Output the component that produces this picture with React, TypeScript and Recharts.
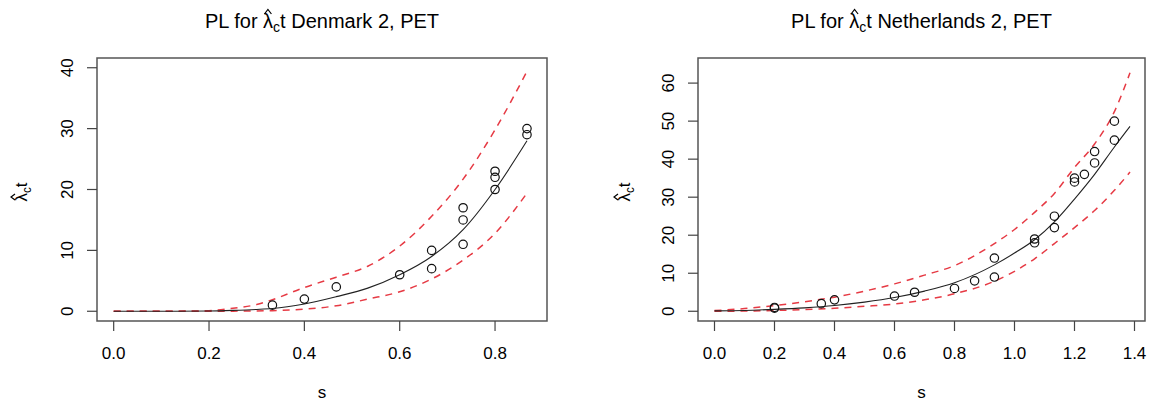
import React from "react";
import {
  ComposedChart,
  Line,
  Scatter,
  XAxis,
  YAxis,
  ReferenceArea,
} from "recharts";

const FONT = '"Liberation Sans", Arial, Helvetica, sans-serif';
const RED = "#e63a44";

// Denmark 2, PET
const dkPoints = [
  { s: 0.333, v: 1 },
  { s: 0.4, v: 2 },
  { s: 0.467, v: 4 },
  { s: 0.6, v: 6 },
  { s: 0.667, v: 10 },
  { s: 0.667, v: 7 },
  { s: 0.733, v: 17 },
  { s: 0.733, v: 15 },
  { s: 0.733, v: 11 },
  { s: 0.8, v: 23 },
  { s: 0.8, v: 22 },
  { s: 0.8, v: 20 },
  { s: 0.867, v: 30 },
  { s: 0.867, v: 29 },
];
const dkS = [0, 0.1, 0.2, 0.25, 0.3, 0.333, 0.4, 0.467, 0.533, 0.6, 0.667, 0.733, 0.8, 0.867];
const dkFit = [0, 0, 0.05, 0.15, 0.3, 0.45, 1.2, 2.4, 3.8, 6.0, 9.0, 13.4, 20.0, 28.0];
const dkUpper = [0, 0, 0.1, 0.5, 1.1, 1.9, 3.9, 5.6, 7.4, 10.7, 15.6, 21.7, 29.8, 39.4];
const dkLower = [0, 0, 0, 0.02, 0.05, 0.1, 0.35, 0.9, 2.0, 3.2, 5.3, 8.4, 12.8, 19.4];
const dkXTicks = [0, 0.2, 0.4, 0.6, 0.8];
const dkYTicks = [0, 10, 20, 30, 40];

// Netherlands 2, PET
const nlPoints = [
  { s: 0.2, v: 1 },
  { s: 0.2, v: 0.8 },
  { s: 0.356, v: 2 },
  { s: 0.4, v: 3 },
  { s: 0.6, v: 4 },
  { s: 0.667, v: 5 },
  { s: 0.8, v: 6 },
  { s: 0.867, v: 8 },
  { s: 0.933, v: 14 },
  { s: 0.933, v: 9 },
  { s: 1.067, v: 19 },
  { s: 1.067, v: 18 },
  { s: 1.133, v: 25 },
  { s: 1.133, v: 22 },
  { s: 1.2, v: 35 },
  { s: 1.2, v: 34 },
  { s: 1.233, v: 36 },
  { s: 1.267, v: 42 },
  { s: 1.267, v: 39 },
  { s: 1.333, v: 50 },
  { s: 1.333, v: 45 },
];
const nlS = [0, 0.1, 0.2, 0.3, 0.4, 0.5, 0.6, 0.7, 0.8, 0.933, 1.0, 1.067, 1.133, 1.2, 1.267, 1.333, 1.385];
const nlFit = [0.1, 0.2, 0.5, 0.9, 1.5, 2.4, 3.6, 5.3, 7.5, 12.2, 15.3, 18.8, 23.5, 29.5, 36, 43.2, 48.6];
const nlUpper = [0.2, 0.7, 1.5, 2.5, 3.7, 5.3, 7.2, 9.5, 12, 17.8, 21.5, 26, 31, 37.8, 44, 52.5, 62.7];
const nlLower = [0, 0.05, 0.2, 0.45, 0.8, 1.3, 1.9, 3.0, 4.6, 7.9, 10.5, 13.8, 17.8, 22, 26.5, 31.8, 36.6];
const nlXTicks = [0, 0.2, 0.4, 0.6, 0.8, 1.0, 1.2, 1.4];
const nlYTicks = [0, 10, 20, 30, 40, 50, 60];

const toRows = (s: number[], v: number[]) => s.map((x, i) => ({ s: x, v: v[i] }));

function RotTick(props: any) {
  const { x, y, payload } = props;
  return (
    <text
      x={x}
      y={y}
      transform={`rotate(-90 ${x} ${y})`}
      textAnchor="middle"
      fontSize={17}
      fontFamily={FONT}
      fill="#000"
    >
      {payload.value}
    </text>
  );
}

function Ring(props: any) {
  const { cx, cy } = props;
  return <circle cx={cx} cy={cy} r={4.2} fill="none" stroke="#111" strokeWidth={1.2} />;
}

// lambda with a drawn hat (like R's plotmath) and subscript c
function Lam({ hatW, hatH, hatTop }: { hatW: number; hatH: number; hatTop: number }) {
  return (
    <>
      <span style={{ position: "relative", display: "inline-block" }}>
        λ
        <svg
          width={hatW}
          height={hatH}
          style={{
            position: "absolute",
            left: "50%",
            marginLeft: -hatW / 2,
            top: hatTop,
            overflow: "visible",
          }}
        >
          <polyline
            points={`0.5,${hatH} ${hatW / 2},0.5 ${hatW - 0.5},${hatH}`}
            fill="none"
            stroke="#000"
            strokeWidth={1.2}
          />
        </svg>
      </span>
      <span style={{ fontSize: "0.7em", position: "relative", top: "0.3em" }}>c</span>
    </>
  );
}

type PanelProps = {
  left: number;
  country: string;
  points: { s: number; v: number }[];
  fit: { s: number; v: number }[];
  upper: { s: number; v: number }[];
  lower: { s: number; v: number }[];
  xDomain: [number, number];
  yDomain: [number, number];
  xTicks: number[];
  yTicks: number[];
  yAxisWidth: number;
  rightMargin: number;
  labelX: number;
};

function Panel(p: PanelProps) {
  const plotLeft = p.yAxisWidth;
  const plotRight = 576 - p.rightMargin;
  const cx = (plotLeft + plotRight) / 2;
  return (
    <div style={{ position: "absolute", left: p.left, top: 0, width: 576, height: 405 }}>
      <ComposedChart
        width={576}
        height={405}
        margin={{ top: 58, right: p.rightMargin, bottom: 0, left: 0 }}
      >
        <XAxis
          type="number"
          dataKey="s"
          domain={p.xDomain}
          allowDataOverflow
          ticks={p.xTicks}
          tickFormatter={(v: number) => v.toFixed(1)}
          tickSize={10}
          tickMargin={16}
          height={84}
          axisLine={false}
          tickLine={{ stroke: "#444", strokeWidth: 1.2 }}
          tick={{ fill: "#000", fontSize: 17, fontFamily: FONT }}
        />
        <YAxis
          type="number"
          dataKey="v"
          domain={p.yDomain}
          allowDataOverflow
          ticks={p.yTicks}
          width={p.yAxisWidth}
          tickSize={10}
          tickMargin={14}
          axisLine={false}
          tickLine={{ stroke: "#444", strokeWidth: 1.2 }}
          tick={<RotTick />}
        />
        <ReferenceArea
          x1={p.xDomain[0]}
          x2={p.xDomain[1]}
          y1={p.yDomain[0]}
          y2={p.yDomain[1]}
          fill="none"
          stroke="#555"
          strokeWidth={1.5}
          ifOverflow="visible"
        />
        <Line
          data={p.upper}
          dataKey="v"
          type="monotone"
          stroke={RED}
          strokeWidth={1.5}
          strokeDasharray="7 6"
          dot={false}
          isAnimationActive={false}
        />
        <Line
          data={p.lower}
          dataKey="v"
          type="monotone"
          stroke={RED}
          strokeWidth={1.5}
          strokeDasharray="7 6"
          dot={false}
          isAnimationActive={false}
        />
        <Line
          data={p.fit}
          dataKey="v"
          type="monotone"
          stroke="#222"
          strokeWidth={1.1}
          dot={false}
          isAnimationActive={false}
        />
        <Scatter data={p.points} dataKey="v" shape={<Ring />} isAnimationActive={false} />
      </ComposedChart>

      <div
        style={{
          position: "absolute",
          left: cx,
          top: 11,
          transform: "translateX(-50%)",
          fontSize: 20,
          lineHeight: "20px",
          whiteSpace: "nowrap",
          fontFamily: FONT,
          color: "#000",
        }}
      >
        PL for <Lam hatW={8} hatH={5} hatTop={-2} />t {p.country} 2, PET
      </div>

      <div
        style={{
          position: "absolute",
          left: cx,
          top: 384,
          transform: "translateX(-50%)",
          fontSize: 17,
          lineHeight: "17px",
          fontFamily: FONT,
          color: "#000",
        }}
      >
        s
      </div>

      <div
        style={{
          position: "absolute",
          left: p.labelX,
          top: 192,
          transform: "translate(-50%, -50%) rotate(-90deg)",
          fontSize: 17,
          lineHeight: "17px",
          whiteSpace: "nowrap",
          fontFamily: FONT,
          color: "#000",
        }}
      >
        <Lam hatW={7} hatH={4.5} hatTop={-2} />t
      </div>
    </div>
  );
}

export default function App() {
  return (
    <div
      style={{
        position: "absolute",
        left: 0,
        top: 0,
        width: 1153,
        height: 405,
        background: "#fff",
        overflow: "hidden",
      }}
    >
      <Panel
        left={0}
        country="Denmark"
        points={dkPoints}
        fit={toRows(dkS, dkFit)}
        upper={toRows(dkS, dkUpper)}
        lower={toRows(dkS, dkLower)}
        xDomain={[-0.035, 0.909]}
        yDomain={[-1.6, 41.6]}
        xTicks={dkXTicks}
        yTicks={dkYTicks}
        yAxisWidth={97}
        rightMargin={29}
        labelX={22}
      />
      <Panel
        left={576}
        country="Netherlands"
        points={nlPoints}
        fit={toRows(nlS, nlFit)}
        upper={toRows(nlS, nlUpper)}
        lower={toRows(nlS, nlLower)}
        xDomain={[-0.055, 1.435]}
        yDomain={[-2.56, 66.6]}
        xTicks={nlXTicks}
        yTicks={nlYTicks}
        yAxisWidth={122}
        rightMargin={7}
        labelX={49}
      />
    </div>
  );
}
